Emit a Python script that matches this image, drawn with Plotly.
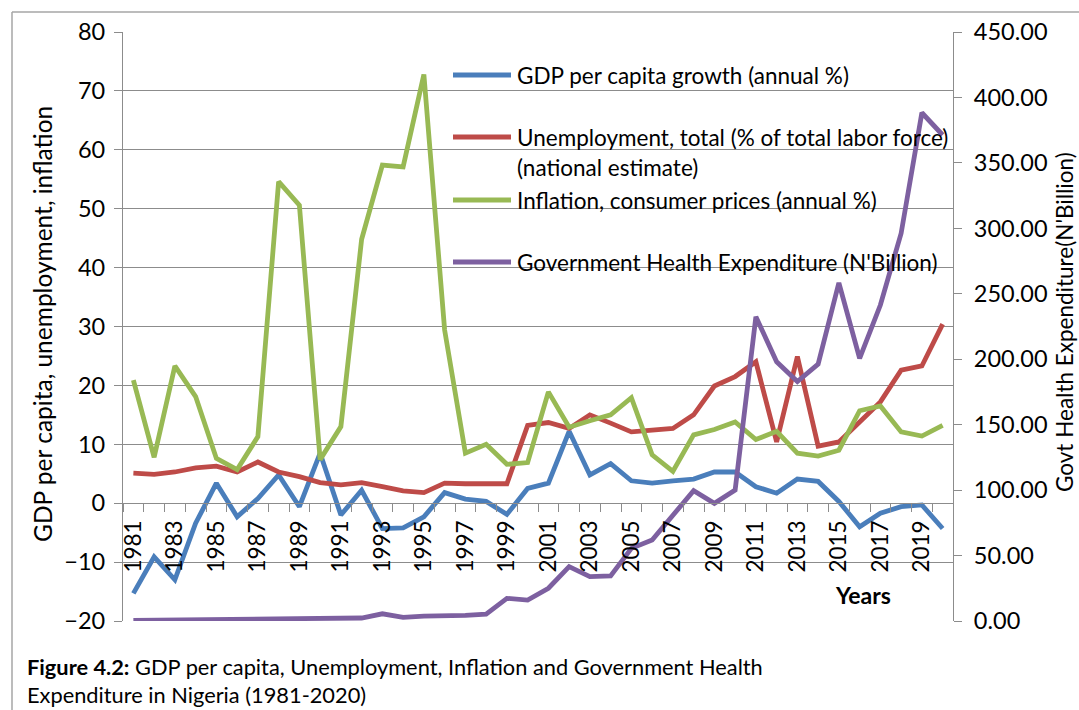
import plotly.graph_objects as go

# Nigeria, 1981-2020
years = list(range(1981, 2021))

gdp_per_capita_growth = [
    -15.3, -9.1, -13.0, -3.4, 3.4, -2.3, 0.8, 4.8, -0.6, 8.5,
    -2.0, 2.2, -4.3, -4.2, -2.3, 1.8, 0.7, 0.3, -1.9, 2.5,
    3.4, 12.2, 4.8, 6.7, 3.8, 3.4, 3.8, 4.1, 5.3, 5.3,
    2.8, 1.7, 4.1, 3.7, 0.3, -4.0, -1.7, -0.6, -0.3, -4.3,
]

unemployment = [
    5.1, 4.9, 5.3, 6.0, 6.3, 5.3, 7.0, 5.3, 4.5, 3.5,
    3.1, 3.5, 2.8, 2.1, 1.8, 3.4, 3.3, 3.3, 3.3, 13.2,
    13.7, 12.7, 15.0, 13.6, 12.1, 12.4, 12.7, 15.0, 19.9, 21.5,
    24.0, 10.4, 24.9, 9.7, 10.4, 13.8, 17.2, 22.6, 23.3, 30.4,
]

inflation = [
    20.9, 7.8, 23.3, 18.1, 7.6, 5.7, 11.3, 54.6, 50.6, 7.4,
    13.0, 44.8, 57.4, 57.1, 72.8, 29.4, 8.5, 10.0, 6.6, 6.9,
    18.9, 12.9, 14.0, 15.0, 17.9, 8.2, 5.4, 11.6, 12.5, 13.8,
    10.8, 12.2, 8.5, 8.0, 9.0, 15.7, 16.5, 12.1, 11.4, 13.2,
]

health_expenditure = [
    0.5, 0.6, 0.7, 0.8, 0.9, 1.0, 1.1, 1.3, 1.5, 1.7,
    1.9, 2.3, 5.5, 2.8, 3.8, 3.8, 4.3, 5.3, 17.3, 16.0,
    25.0, 41.5, 33.9, 34.4, 55.5, 61.9, 80.7, 99.6, 89.9, 100.1,
    232.5, 198.1, 183.0, 196.3, 258.4, 200.7, 241.4, 296.2, 388.3, 371.3,
]

left_range = [-20, 80]
right_range = [0, 450]

series = [
    ("GDP per capita growth (annual %)", gdp_per_capita_growth, "#4A7EBB", "y"),
    ("Unemployment, total (% of total labor force)", unemployment, "#BE4B48", "y"),
    ("Inflation, consumer prices (annual %)", inflation, "#98B954", "y"),
    ("Government Health Expenditure (N'Billion)", health_expenditure, "#7D60A0", "y2"),
]

FONT = "Lato"
GRID = "#8C8C8C"
LINE_W = 4.8

fig = go.Figure()
for name, vals, color, axis in series:
    fig.add_trace(go.Scatter(
        x=years, y=vals, name=name, mode="lines", yaxis=axis,
        line=dict(color=color, width=LINE_W),
        showlegend=False,
    ))

# plot-area geometry in pixels
W, H = 1079, 710
L, R, T, B = 123, 126, 32, 89
pw, ph = W - L - R, H - T - B


def px(x):
    return (x - L) / pw


def py(y):
    return (H - B - y) / ph


# the category axis crosses the value axis at zero
x_cross = (0 - left_range[0]) / (left_range[1] - left_range[0])
boundaries = [y - 0.5 for y in years] + [years[-1] + 0.5]

fig.update_layout(
    width=W, height=H, autosize=False,
    margin=dict(l=L, r=R, t=T, b=B, pad=0),
    paper_bgcolor="white", plot_bgcolor="white",
    font=dict(family=FONT, color="black", size=22),
    xaxis=dict(
        type="linear", range=[years[0] - 0.5, years[-1] + 0.5],
        anchor="free", position=x_cross,
        tickmode="array", tickvals=years[::2], ticktext=[str(y) for y in years[::2]],
        tickangle=-90, ticks="", ticklabelstandoff=7,
        tickfont=dict(size=22.5, family=FONT),
        showline=True, linecolor=GRID, linewidth=1.3,
        showgrid=False, zeroline=False,
        minor=dict(tickmode="array", tickvals=boundaries, ticks="outside",
                   ticklen=8, tickwidth=1.3, tickcolor=GRID, showgrid=False),
    ),
    yaxis=dict(
        range=left_range, dtick=10, tick0=0,
        showgrid=True, gridcolor=GRID, gridwidth=1.3,
        showline=True, linecolor=GRID, linewidth=1.3,
        ticks="outside", ticklen=8, tickwidth=1.3, tickcolor=GRID,
        ticklabelstandoff=4,
        tickfont=dict(size=23.5, family=FONT), zeroline=False,
    ),
    yaxis2=dict(
        range=right_range, dtick=50, tick0=0, overlaying="y", side="right",
        tickformat=".2f", showgrid=False, zeroline=False,
        showline=True, linecolor=GRID, linewidth=1.3,
        ticks="outside", ticklen=8, tickwidth=1.3, tickcolor=GRID,
        ticklabelstandoff=7,
        tickfont=dict(size=23.5, family=FONT),
    ),
)

shapes = []
annotations = []

# outer frame
shapes.append(dict(type="line", xref="paper", yref="paper",
                   x0=px(12), x1=px(W + 5), y0=py(12), y1=py(12),
                   line=dict(color="#A6A6A6", width=1.5)))
shapes.append(dict(type="line", xref="paper", yref="paper",
                   x0=px(12), x1=px(12), y0=py(12), y1=py(H + 5),
                   line=dict(color="#A6A6A6", width=1.5)))

# legend
LEG_FONT = 22.5
legend_rows = [
    (series[0][0], series[0][2], 75),
    (series[1][0], series[1][2], 137),
    (series[2][0], series[2][2], 200),
    (series[3][0], series[3][2], 262),
]
for label, color, yy in legend_rows:
    shapes.append(dict(type="line", xref="paper", yref="paper",
                       x0=px(453), x1=px(511), y0=py(yy), y1=py(yy),
                       line=dict(color=color, width=LINE_W)))
    annotations.append(dict(text=label, xref="paper", yref="paper",
                            x=px(515), y=py(yy), xanchor="left", yanchor="middle",
                            showarrow=False, font=dict(size=LEG_FONT, family=FONT)))
annotations.append(dict(text="(national estimate)", xref="paper", yref="paper",
                        x=px(515), y=py(167), xanchor="left", yanchor="middle",
                        showarrow=False, font=dict(size=LEG_FONT, family=FONT)))

# axis titles
annotations.append(dict(text="GDP per capita, unemployment, inflation",
                        xref="paper", yref="paper", x=px(42), y=py(324),
                        xanchor="center", yanchor="middle", textangle=-90,
                        showarrow=False, font=dict(size=24.5, family=FONT)))
annotations.append(dict(text="Govt Health Expenditure(N'Billion)",
                        xref="paper", yref="paper", x=px(1064), y=py(322),
                        xanchor="center", yanchor="middle", textangle=-90,
                        showarrow=False, font=dict(size=22.5, family=FONT)))
annotations.append(dict(text="<b>Years</b>", xref="paper", yref="paper",
                        x=px(863), y=py(595), xanchor="center", yanchor="middle",
                        showarrow=False, font=dict(size=23, family=FONT)))

# caption
annotations.append(dict(
    text="<b>Figure 4.2:</b> GDP per capita, Unemployment, Inflation and Government Health"
         "<br>Expenditure in Nigeria (1981-2020)",
    xref="paper", yref="paper", x=px(26), y=py(709), xanchor="left", yanchor="bottom",
    align="left", borderpad=0,
    showarrow=False, font=dict(size=21.8, family=FONT)))

fig.update_layout(shapes=shapes, annotations=annotations)

fig.write_html("out.html")
